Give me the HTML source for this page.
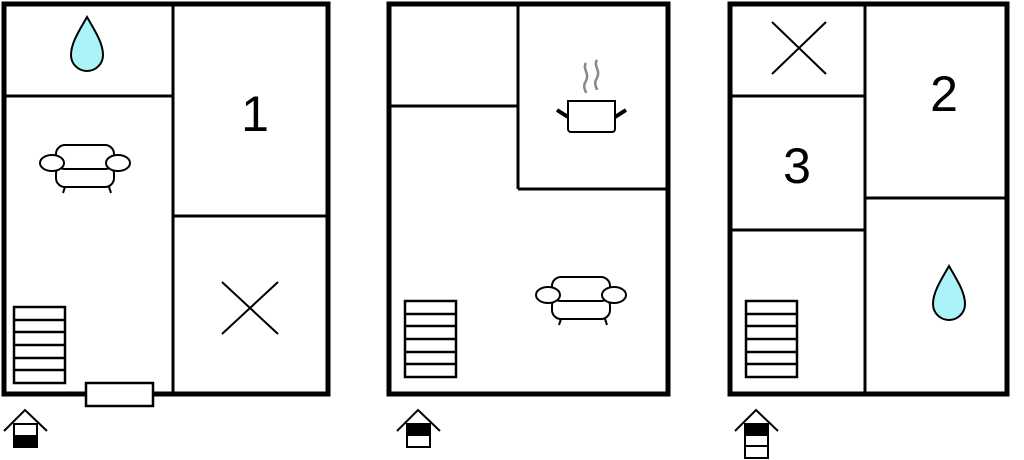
<!DOCTYPE html>
<html><head><style>html,body{margin:0;padding:0;background:#fff}svg{display:block}</style></head><body>
<svg width="1024" height="460" viewBox="0 0 1024 460" xmlns="http://www.w3.org/2000/svg">
<defs>
<g id="sofa" fill="#fff" stroke="#000" stroke-width="2">
<line x1="-19" y1="19" x2="-22" y2="28"/><line x1="23" y1="19" x2="26" y2="28"/>
<rect x="-29" y="0" width="58" height="22" rx="9"/>
<rect x="-29" y="-20" width="58" height="24" rx="9"/>
<ellipse cx="-33" cy="-2" rx="12" ry="8"/><ellipse cx="33" cy="-2" rx="12" ry="8"/>
</g>
<g id="stairs" fill="#fff" stroke="#000" stroke-width="2.5">
<rect x="0" y="0" width="51" height="76"/>
<line x1="0" y1="13" x2="51" y2="13"/><line x1="0" y1="25" x2="51" y2="25"/><line x1="0" y1="38" x2="51" y2="38"/><line x1="0" y1="51" x2="51" y2="51"/><line x1="0" y1="63" x2="51" y2="63"/>
</g>
<path id="drop" d="M0,0 C8,14 16,26 16,38 A16,16 0 0 1 -16,38 C-16,26 -8,14 0,0Z" fill="#aaf4f8" stroke="#000" stroke-width="2"/>
</defs>
<g fill="none" stroke="#000">
<rect x="4" y="4" width="324" height="390" stroke-width="5"/>
<line x1="173" y1="4" x2="173" y2="394" stroke-width="3"/>
<line x1="4" y1="96" x2="173" y2="96" stroke-width="3"/>
<line x1="173" y1="216" x2="328" y2="216" stroke-width="3"/>
<line x1="222" y1="282" x2="278" y2="334" stroke-width="2"/><line x1="278" y1="282" x2="222" y2="334" stroke-width="2"/>
<rect x="389" y="4" width="279" height="390" stroke-width="5"/>
<line x1="389" y1="106" x2="518" y2="106" stroke-width="3"/>
<line x1="518" y1="4" x2="518" y2="189" stroke-width="3"/>
<line x1="518" y1="189" x2="668" y2="189" stroke-width="3"/>
<rect x="730" y="4" width="277" height="390" stroke-width="5"/>
<line x1="865" y1="4" x2="865" y2="394" stroke-width="3"/>
<line x1="730" y1="96" x2="865" y2="96" stroke-width="3"/>
<line x1="730" y1="230" x2="865" y2="230" stroke-width="3"/>
<line x1="865" y1="198" x2="1007" y2="198" stroke-width="3"/>
<line x1="772" y1="22" x2="826" y2="74" stroke-width="2"/><line x1="826" y1="22" x2="772" y2="74" stroke-width="2"/>
</g>
<use href="#drop" x="87" y="17"/>
<use href="#drop" x="949" y="266"/>
<use href="#sofa" x="85" y="165"/>
<use href="#sofa" x="581" y="297"/>
<use href="#stairs" x="14" y="307"/>
<use href="#stairs" x="405" y="301"/>
<use href="#stairs" x="746" y="301"/>
<rect x="86" y="383" width="67" height="23" fill="#fff" stroke="#000" stroke-width="2.5"/>
<!-- pot -->
<g fill="none">
<path d="M586,63 c-4,6 4,10 0,18 c-4,6 0,10 0,12" stroke="#888" stroke-width="2.5"/>
<path d="M597,60 c-4,6 4,10 0,18 c-4,6 0,10 0,12" stroke="#888" stroke-width="2.5"/>
<path d="M568,101 h47 v28 a3,3 0 0 1 -3,3 h-41 a3,3 0 0 1 -3,-3 z" fill="#fff" stroke="#000" stroke-width="2"/>
<line x1="557" y1="110" x2="568" y2="117" stroke="#000" stroke-width="4"/>
<line x1="626" y1="110" x2="615" y2="117" stroke="#000" stroke-width="4"/>
</g>
<g font-family="Liberation Sans, sans-serif" font-size="50" text-anchor="middle">
<text x="255" y="131">1</text><text x="797" y="183">3</text><text x="944" y="111">2</text>
</g>
<!-- house icons -->
<g stroke="#000" fill="none" stroke-width="2">
<path d="M4,431 L25,410 L47,431"/>
<rect x="14" y="424" width="23" height="23" fill="#fff"/><rect x="14" y="436" width="23" height="11" fill="#000"/>
<path d="M397,431 L418,410 L440,431"/>
<rect x="407" y="424" width="23" height="23" fill="#fff"/><rect x="407" y="424" width="23" height="11" fill="#000"/>
<path d="M735,431 L756,410 L778,431"/>
<rect x="745" y="424" width="23" height="34" fill="#fff"/><rect x="745" y="424" width="23" height="11" fill="#000"/>
<line x1="745" y1="446" x2="768" y2="446"/>
</g>
</svg>
</body></html>
